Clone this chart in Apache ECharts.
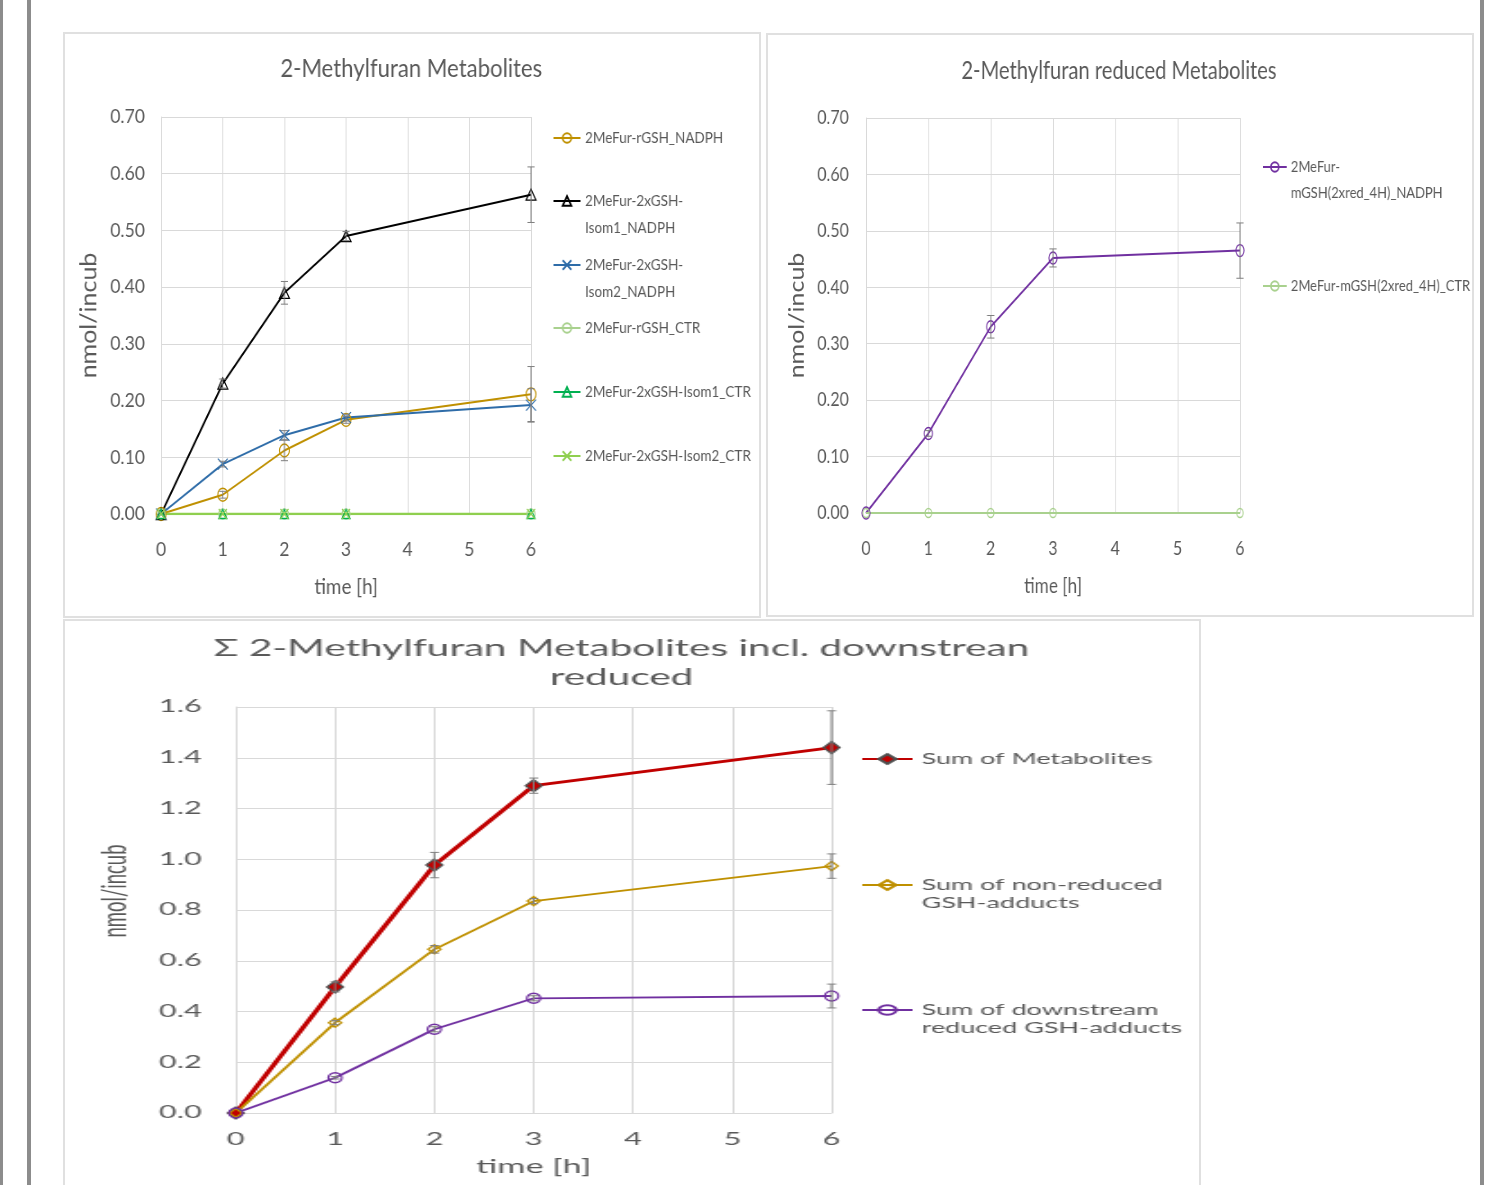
<!DOCTYPE html>
<html><head><meta charset="utf-8">
<script src="https://cdn.jsdelivr.net/npm/echarts@6/dist/echarts.min.js"></script>
<style>
html,body{margin:0;padding:0;background:#fff;width:1495px;height:1185px;overflow:hidden;position:relative}
.bar{position:absolute;top:0;height:1185px;background:#8c8c8c}
.panel{position:absolute;border:2px solid #e0e0e0;box-sizing:border-box}
.chart{position:absolute;transform-origin:0 0}
</style></head><body>
<div class="bar" style="left:0;width:3px"></div>
<div class="bar" style="left:27px;width:4px"></div>
<div class="bar" style="left:1480px;width:4px"></div>
<div class="panel" style="left:63px;top:32px;width:698px;height:586px"></div>
<div class="panel" style="left:766px;top:33px;width:708px;height:584px"></div>
<div class="panel" style="left:63px;top:619px;width:1138px;height:600px"></div>
<div id="c1" class="chart" style="left:63px;top:32px;width:774px;height:585px;transform:scaleX(0.9)"></div>
<div id="c2" class="chart" style="left:766px;top:33px;width:900px;height:583px;transform:scaleX(0.82)"></div>
<div id="c3" class="chart" style="left:63px;top:619px;width:650px;height:566px;transform:scaleX(1.8)"></div>
<script>
// ---------- data ----------
const timePoints = [0, 1, 2, 3, 6];

// Chart 1: 2-Methylfuran Metabolites
const rgshNadph = [0, 0.034, 0.112, 0.166, 0.211];
const rgshNadphErr = [0, 0.006, 0.018, 0.006, 0.049];
const isom1Nadph = [0, 0.230, 0.390, 0.490, 0.563];
const isom1NadphErr = [0, 0.008, 0.020, 0.008, 0.049];
const isom2Nadph = [0, 0.088, 0.139, 0.170, 0.192];
const isom2NadphErr = [0, 0.005, 0.008, 0.006, 0.029];
const rgshCtr = [0, 0, 0, 0, 0];
const isom1Ctr = [0, 0, 0, 0, 0];
const isom2Ctr = [0, 0, 0, 0, 0];

// Chart 2: reduced metabolites
const mgshNadph = [0, 0.141, 0.330, 0.452, 0.465];
const mgshNadphErr = [0, 0.005, 0.020, 0.016, 0.049];
const mgshCtr = [0, 0, 0, 0, 0];

// Chart 3: sums
const sumMetabolites = [0, 0.497, 0.977, 1.290, 1.440];
const sumMetabolitesErr = [0, 0.020, 0.050, 0.030, 0.145];
const sumNonReduced = [0, 0.356, 0.645, 0.835, 0.973];
const sumNonReducedErr = [0, 0.008, 0.015, 0.010, 0.048];
const sumReduced = [0, 0.139, 0.330, 0.452, 0.461];
const sumReducedErr = [0, 0.005, 0.010, 0.010, 0.047];

const FONT = 'Lato, "Liberation Sans", sans-serif';
const TXT = '#595959';
const GRID = '#d9d9d9';

function pairs(vals) { return timePoints.map((t, i) => [t, vals[i]]); }
function errSeries(vals, errs, color, cap) {
  const data = [];
  timePoints.forEach((t, i) => { if (errs[i] > 0) data.push([t, vals[i] - errs[i], vals[i] + errs[i]]); });
  return {
    type: 'custom', silent: true, z: 5, data: data, encode: { x: 0, y: [1, 2] },
    renderItem: function (params, api) {
      const x = api.value(0);
      const lo = api.coord([x, api.value(1)]);
      const hi = api.coord([x, api.value(2)]);
      const st = { stroke: color, lineWidth: 1 };
      return { type: 'group', children: [
        { type: 'line', shape: { x1: lo[0], y1: lo[1], x2: hi[0], y2: hi[1] }, style: st },
        { type: 'line', shape: { x1: lo[0] - cap, y1: lo[1], x2: lo[0] + cap, y2: lo[1] }, style: st },
        { type: 'line', shape: { x1: hi[0] - cap, y1: hi[1], x2: hi[0] + cap, y2: hi[1] }, style: st }
      ]};
    }
  };
}
function lineSeries(name, vals, color, symbol, size, width, fill, border) {
  return {
    type: 'line', name: name, data: pairs(vals), symbol: symbol, symbolSize: size, showSymbol: true,
    lineStyle: { color: color, width: width },
    itemStyle: { color: fill || 'rgba(255,255,255,0)', borderColor: border || color, borderWidth: 1.3 },
    emphasis: { disabled: true }, z: 3
  };
}
// two-line legend entries get a leading blank line so the icon sits on the first text line
function legendItem(name, display, left, centerY, lh, twoLine, fontSize, iconW) {
  const contentH = twoLine ? 3 * lh : lh;
  const shown = twoLine ? ' \n' + display : display;
  return {
    data: [name], left: left, top: centerY - contentH / 2, orient: 'vertical', padding: 0,
    itemWidth: iconW, itemHeight: 12, itemGap: 0, selectedMode: false,
    formatter: function () { return shown; },
    textStyle: { fontSize: fontSize, color: TXT, lineHeight: lh, fontFamily: FONT }
  };
}
function xAxisCfg(labelSize, labelMargin, nameSize, nameGap) {
  return {
    type: 'value', min: 0, max: 6, interval: 1, name: 'time [h]', nameLocation: 'middle', nameGap: nameGap,
    nameTextStyle: { fontSize: nameSize, color: TXT, fontFamily: FONT },
    axisLine: { lineStyle: { color: GRID, width: 1 } }, axisTick: { show: false },
    axisLabel: { fontSize: labelSize, color: TXT, margin: labelMargin, fontFamily: FONT },
    splitLine: { show: true, lineStyle: { color: GRID, width: 1 } }
  };
}
function yAxisCfg(max, interval, digits, labelSize, labelMargin, nameSize, nameGap, namePad) {
  return {
    type: 'value', min: 0, max: max, interval: interval, name: 'nmol/incub', nameLocation: 'middle', nameGap: nameGap,
    nameTextStyle: { fontSize: nameSize, color: TXT, fontFamily: FONT, padding: namePad || 0 },
    axisLine: { show: true, lineStyle: { color: GRID, width: 1 } }, axisTick: { show: false },
    axisLabel: { fontSize: labelSize, color: TXT, margin: labelMargin, fontFamily: FONT, formatter: v => v.toFixed(digits) },
    splitLine: { show: true, lineStyle: { color: GRID, width: 1 } }
  };
}

// ---------- chart 1 ----------
const n1 = ['2MeFur-rGSH_NADPH', '2MeFur-2xGSH-Isom1_NADPH', '2MeFur-2xGSH-Isom2_NADPH',
            '2MeFur-rGSH_CTR', '2MeFur-2xGSH-Isom1_CTR', '2MeFur-2xGSH-Isom2_CTR'];
const d1 = ['2MeFur-rGSH_NADPH', '2MeFur-2xGSH-\nIsom1_NADPH', '2MeFur-2xGSH-\nIsom2_NADPH',
            '2MeFur-rGSH_CTR', '2MeFur-2xGSH-Isom1_CTR', '2MeFur-2xGSH-Isom2_CTR'];
const xPath = 'path://M0,0L10,10M0,10L10,0';
const c1 = echarts.init(document.getElementById('c1'));
c1.setOption({
  animation: false, textStyle: { fontFamily: FONT },
  title: { text: '2-Methylfuran Metabolites', left: 'center', top: 22.5, padding: 0,
           textStyle: { fontSize: 24.6, lineHeight: 30, fontWeight: 'normal', color: TXT, fontFamily: FONT } },
  grid: { left: 109, top: 85, width: 411, height: 397 },
  xAxis: xAxisCfg(19.5, 26, 21, 63),
  yAxis: yAxisCfg(0.7, 0.1, 2, 19.5, 18, 25, 61),
  legend: [
    legendItem(n1[0], d1[0], 544, 106, 27, false, 15, 30),
    legendItem(n1[1], d1[1], 544, 169, 27, true, 15, 30),
    legendItem(n1[2], d1[2], 544, 233, 27, true, 15, 30),
    legendItem(n1[3], d1[3], 544, 296, 27, false, 15, 30),
    legendItem(n1[4], d1[4], 544, 360, 27, false, 15, 30),
    legendItem(n1[5], d1[5], 544, 424, 27, false, 15, 30)
  ],
  series: [
    lineSeries(n1[0], rgshNadph, '#bf9000', 'circle', [11, 13], 2),
    lineSeries(n1[1], isom1Nadph, '#000000', 'triangle', [11, 11], 2),
    lineSeries(n1[2], isom2Nadph, '#2e6ca8', xPath, [11, 11], 2),
    lineSeries(n1[3], rgshCtr, '#a9d18e', 'circle', [9, 10], 2),
    lineSeries(n1[4], isom1Ctr, '#00b050', 'triangle', [9, 9], 2),
    lineSeries(n1[5], isom2Ctr, '#8fcf4f', xPath, [9, 10], 2.6),
    errSeries(rgshNadph, rgshNadphErr, '#7f7f7f', 4),
    errSeries(isom1Nadph, isom1NadphErr, '#7f7f7f', 4),
    errSeries(isom2Nadph, isom2NadphErr, '#7f7f7f', 4)
  ]
});

// ---------- chart 2 ----------
const n2 = ['2MeFur-mGSH(2xred_4H)_NADPH', '2MeFur-mGSH(2xred_4H)_CTR'];
const d2 = ['2MeFur-\nmGSH(2xred_4H)_NADPH', '2MeFur-mGSH(2xred_4H)_CTR'];
const c2 = echarts.init(document.getElementById('c2'));
c2.setOption({
  animation: false, textStyle: { fontFamily: FONT },
  title: { text: '2-Methylfuran reduced Metabolites', left: 430.5, textAlign: 'center', top: 23, padding: 0,
           textStyle: { fontSize: 24.6, lineHeight: 30, fontWeight: 'normal', color: TXT, fontFamily: FONT } },
  grid: { left: 122, top: 85, width: 456, height: 395 },
  xAxis: xAxisCfg(19.5, 26, 21, 63),
  yAxis: yAxisCfg(0.7, 0.1, 2, 19.5, 21, 25, 72),
  legend: [
    legendItem(n2[0], d2[0], 605, 134, 26, true, 15.8, 29),
    legendItem(n2[1], d2[1], 605, 253, 26, false, 15.8, 29)
  ],
  series: [
    lineSeries(n2[0], mgshNadph, '#7030a0', 'circle', [10, 12], 2),
    lineSeries(n2[1], mgshCtr, '#a9d18e', 'circle', [8, 9], 2),
    errSeries(mgshNadph, mgshNadphErr, '#7f7f7f', 4.5)
  ]
});

// ---------- chart 3 ----------
const n3 = ['Sum of Metabolites', 'Sum of non-reduced GSH-adducts', 'Sum of downstream reduced GSH-adducts'];
const d3 = ['Sum of Metabolites', 'Sum of non-reduced\nGSH-adducts', 'Sum of downstream\nreduced GSH-adducts'];
const c3 = echarts.init(document.getElementById('c3'));
c3.setOption({
  animation: false, textStyle: { fontFamily: FONT },
  title: { text: 'Σ 2-Methylfuran Metabolites incl. downstrean\nreduced', left: 310.3, textAlign: 'center', top: 15.5, padding: 0,
           textStyle: { fontSize: 22.5, lineHeight: 29, fontWeight: 'normal', color: TXT, fontFamily: FONT } },
  grid: { left: 96, top: 88, width: 331, height: 406 },
  xAxis: xAxisCfg(17, 18, 19, 44),
  yAxis: yAxisCfg(1.6, 0.2, 1, 17, 19, 18.5, 57, [0, 0, 0, 38]),
  legend: [
    legendItem(n3[0], d3[0], 443, 140, 18, false, 15, 28),
    legendItem(n3[1], d3[1], 443, 266, 18, true, 15, 28),
    legendItem(n3[2], d3[2], 443, 391, 18, true, 15, 28)
  ],
  series: [
    lineSeries(n3[0], sumMetabolites, '#c00000', 'diamond', [9, 12], 3, '#c00000', '#505050'),
    lineSeries(n3[1], sumNonReduced, '#bf9000', 'diamond', [7, 9], 1.8),
    lineSeries(n3[2], sumReduced, '#7030a0', 'circle', [7.5, 10], 1.8),
    errSeries(sumMetabolites, sumMetabolitesErr, '#7f7f7f', 2.5),
    errSeries(sumNonReduced, sumNonReducedErr, '#7f7f7f', 2.5),
    errSeries(sumReduced, sumReducedErr, '#7f7f7f', 2.5)
  ]
});
</script>
</body></html>
